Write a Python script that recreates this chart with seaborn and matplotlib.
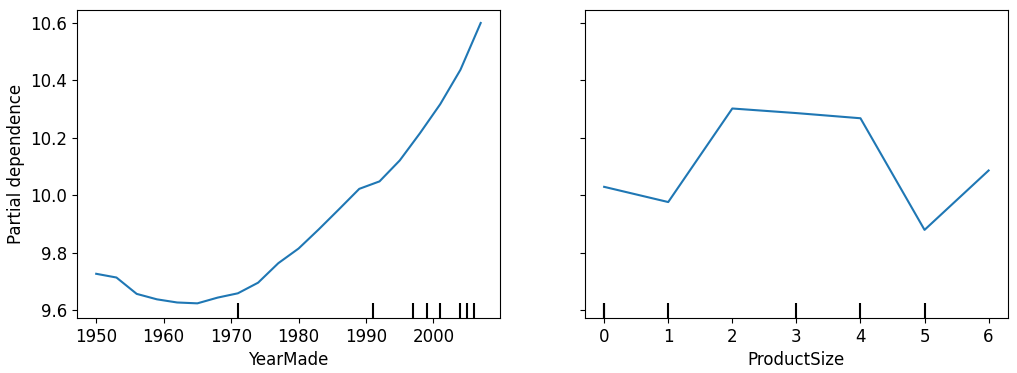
import numpy as np
import pandas as pd
import matplotlib
matplotlib.use("Agg")
import matplotlib.pyplot as plt
import seaborn as sns

# partial dependence on YearMade
year_grid = [1950, 1953, 1956, 1959, 1962, 1965, 1968, 1971, 1974, 1977,
             1980, 1983, 1986, 1989, 1992, 1995, 1998, 2001, 2004, 2007]
year_pd = [9.726, 9.713, 9.656, 9.637, 9.626, 9.623, 9.643, 9.658, 9.695, 9.763,
           9.814, 9.881, 9.951, 10.022, 10.048, 10.121, 10.216, 10.317, 10.437, 10.600]
year_deciles = [1971, 1991, 1997, 1999, 2001, 2004, 2005, 2006]

# partial dependence on ProductSize
size_grid = [0, 1, 2, 3, 4, 5, 6]
size_pd = [10.029, 9.976, 10.302, 10.286, 10.268, 9.879, 10.086]
size_deciles = [0, 0, 1, 3, 4, 5]

plt.rcParams['font.size'] = 12

fig, axes = plt.subplots(1, 2, figsize=(10.17, 3.73), dpi=100, sharey=True)
fig.subplots_adjust(left=0.0757, right=0.991, top=0.973, bottom=0.1475, wspace=0.201)

panels = [
    (axes[0], year_grid, year_pd, year_deciles, 'YearMade'),
    (axes[1], size_grid, size_pd, size_deciles, 'ProductSize'),
]
for ax, grid, pdv, dec, name in panels:
    df = pd.DataFrame({name: grid, 'pd': pdv})
    sns.lineplot(data=df, x=name, y='pd', ax=ax, color='#1f77b4', linewidth=1.5)
    sns.rugplot(x=dec, ax=ax, height=0.05, color='k', linewidth=1.5)
    ax.set_xlabel(name)
    ax.set_ylabel('')

axes[0].set_ylabel('Partial dependence')
axes[0].set_ylim(9.572, 10.645)
axes[0].set_yticks([9.6, 9.8, 10.0, 10.2, 10.4, 10.6])
axes[0].set_xticks([1950, 1960, 1970, 1980, 1990, 2000])
axes[1].set_xticks(size_grid)

fig.savefig('out.png', dpi=100)
